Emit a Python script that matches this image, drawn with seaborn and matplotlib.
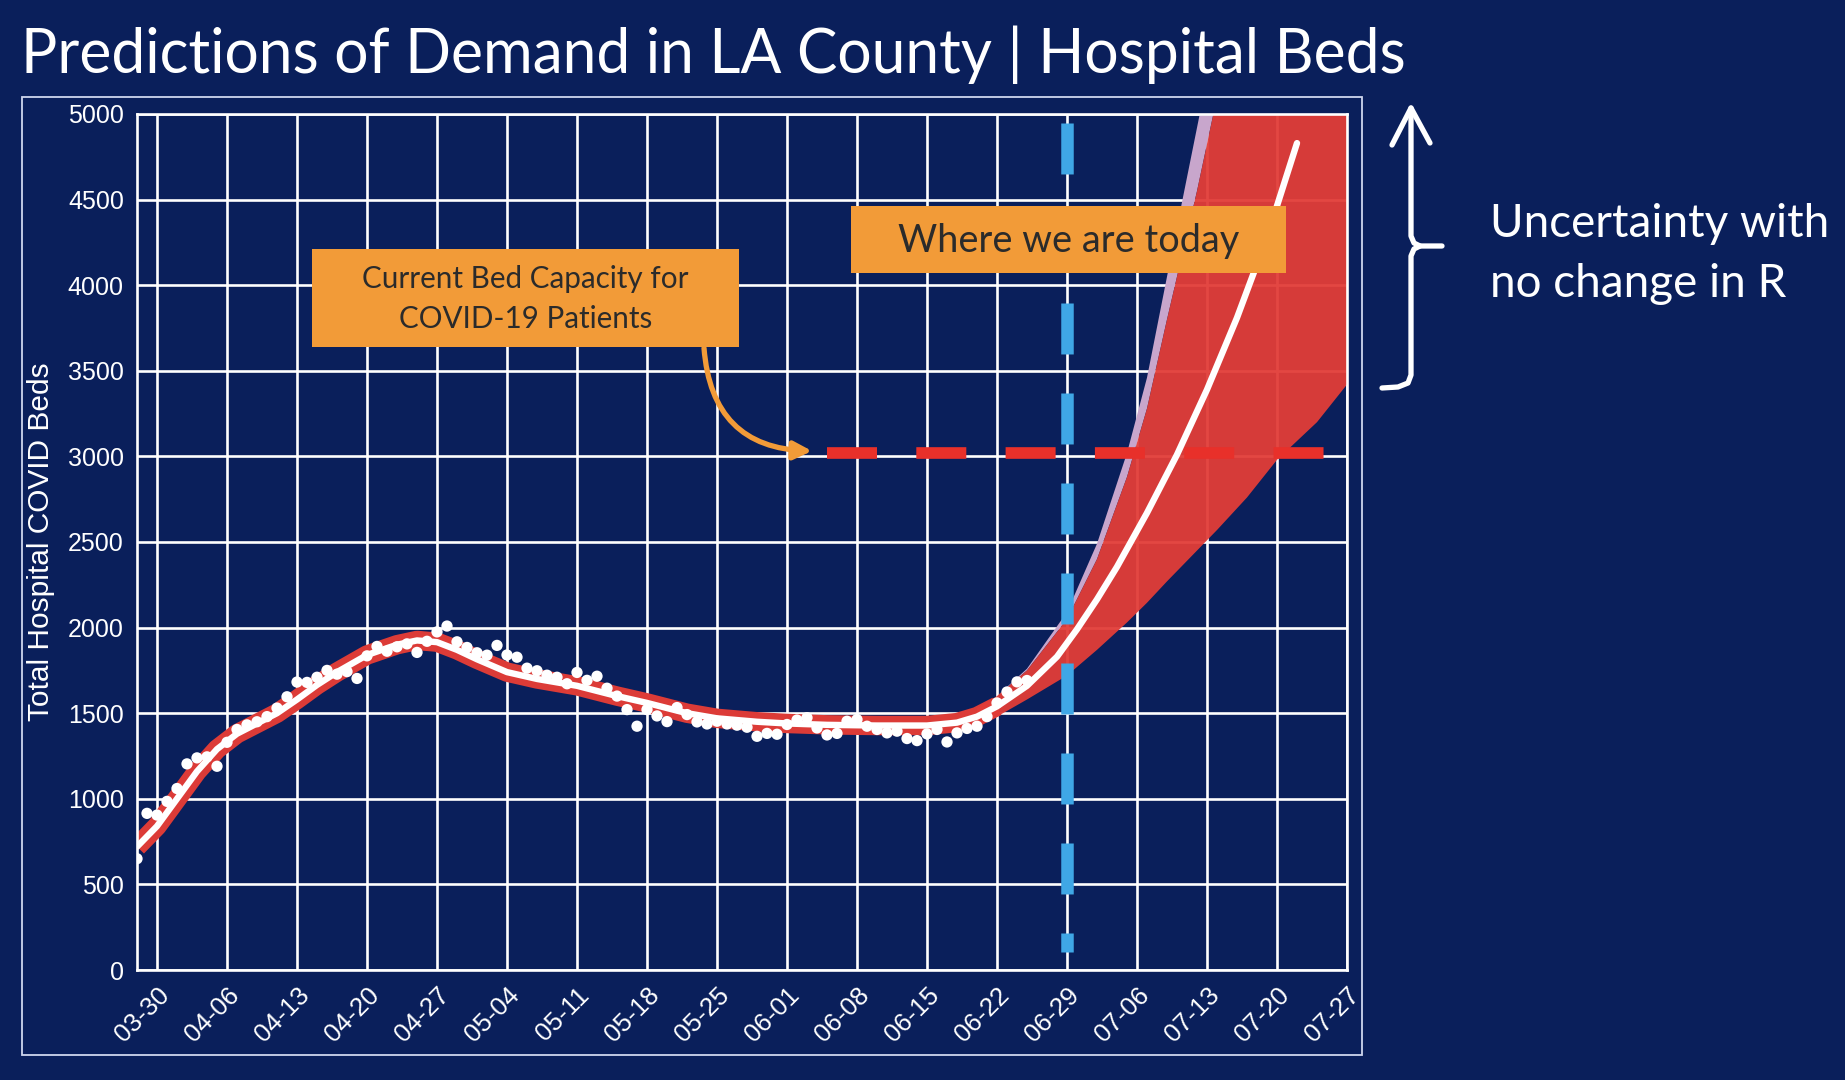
"""
LA County hospital bed demand - observed census, model fit and projection band.
"""

import pandas as pd
import matplotlib
matplotlib.use("Agg")
import matplotlib.pyplot as plt
import matplotlib.dates as mdates
from matplotlib.patches import Rectangle
import seaborn as sns


# ──────────────────────────────────────────────
# Data
# ──────────────────────────────────────────────

obs_dates = pd.date_range("2020-03-28", "2020-06-25", freq="D")
obs_beds = [
    650, 915, 905, 985, 1060, 1204, 1239, 1245, 1190, 1330,
    1405, 1432, 1450, 1480, 1530, 1596, 1682, 1680, 1710, 1750,
    1728, 1743, 1703, 1835, 1890, 1862, 1888, 1905, 1855, 1920,
    1975, 2009, 1917, 1884, 1853, 1839, 1896, 1840, 1827, 1763,
    1748, 1722, 1710, 1672, 1738, 1692, 1716, 1646, 1600, 1521,
    1424, 1521, 1484, 1451, 1533, 1492, 1449, 1437, 1453, 1437,
    1430, 1418, 1365, 1382, 1377, 1434, 1460, 1474, 1414, 1373,
    1382, 1453, 1463, 1424, 1405, 1385, 1395, 1352, 1340, 1379,
    1405, 1332, 1385, 1411, 1424, 1480, 1560, 1624, 1683, 1691,
]

model_dates = [
    "03-28", "03-30", "04-01", "04-03", "04-05", "04-07", "04-09", "04-11",
    "04-13", "04-15", "04-17", "04-20", "04-23", "04-25", "04-27", "04-29",
    "05-01", "05-04", "05-07", "05-11", "05-15", "05-18", "05-22", "05-25",
    "05-29", "06-01", "06-05", "06-10", "06-15", "06-18", "06-20", "06-22",
    "06-25", "06-28", "06-30", "07-02", "07-04", "07-07", "07-10", "07-13",
    "07-16", "07-19", "07-22",
]
model_beds = [
    720, 840, 1000, 1160, 1290, 1380, 1440, 1500,
    1580, 1665, 1740, 1840, 1900, 1925, 1915, 1870,
    1815, 1740, 1700, 1660, 1600, 1560, 1500, 1470,
    1450, 1440, 1432, 1428, 1428, 1445, 1480, 1540,
    1660, 1830, 1990, 2165, 2355, 2670, 3010, 3390,
    3810, 4280, 4830,
]

proj_dates = [
    "06-20", "06-22", "06-25", "06-29", "07-02", "07-05", "07-07",
    "07-09", "07-12", "07-14", "07-17", "07-20", "07-24", "07-27",
]
band_low = [1430, 1480, 1580, 1720, 1870, 2030, 2145, 2270, 2450, 2570, 2760, 2980, 3200, 3420]
band_high = [1530, 1600, 1750, 2050, 2400, 2880, 3280, 3800, 4550, 5100, 5800, 6500, 7400, 8000]
band_high_wide = [1530, 1600, 1760, 2090, 2490, 3020, 3460, 4050, 4920, 5500, 6300, 7000, 7800, 8400]

capacity = 3020
capacity_span = ["06-05", "07-25"]
today = "06-29"
fit_band_until = "06-24"

x_range = ["03-28", "07-27"]
week_ticks = pd.date_range("2020-03-30", "2020-07-27", freq="7D")
y_ticks = list(range(0, 5001, 500))

TITLE = "Predictions of Demand in LA County | Hospital Beds"


def day(md):
    return pd.Timestamp("2020-" + md)


# ──────────────────────────────────────────────
# Style
# ──────────────────────────────────────────────

NAVY = "#0a1f5b"
RED = "#dc3b37"
BAND_RED = "#e23d38"
DASH_RED = "#e8302a"
LAVENDER = "#c8a6cc"
BLUE = "#3fa7e6"
ORANGE = "#f29b38"
SLIDE_FONT = ["Lato", "DejaVu Sans"]

sns.set_theme(style="darkgrid")
plt.rcParams["font.family"] = ["Liberation Sans", "DejaVu Sans"]
plt.rcParams["lines.scale_dashes"] = False

fig = plt.figure(figsize=(18.45, 10.8), dpi=100, facecolor=NAVY)
ax = fig.add_axes([137 / 1845, 1 - 970 / 1080, 1210 / 1845, 856 / 1080])
ax.set_facecolor(NAVY)
ax.grid(True, color="white", linewidth=1.9)
ax.set_axisbelow(True)

m_dt = pd.to_datetime(["2020-" + d for d in model_dates])
m_val = pd.Series(model_beds, index=m_dt)
p_dt = pd.to_datetime(["2020-" + d for d in proj_dates])

# model fit band on the observed period (drawn as a thick stroke)
fit = m_val[m_val.index <= day(fit_band_until)]
sns.lineplot(x=fit.index, y=fit.values, color=RED, linewidth=14,
             solid_capstyle="butt", ax=ax, zorder=2)

# projection uncertainty
ax.fill_between(p_dt, band_high, band_high_wide, color=LAVENDER, linewidth=0, zorder=2)
ax.fill_between(p_dt, band_low, band_high, color=BAND_RED, alpha=0.95, linewidth=0, zorder=2.1)

# "today" marker and capacity line
ax.axvline(day(today), ymin=0.9895, ymax=0.021, color=BLUE, linewidth=9,
           linestyle=(0, (36.7, 28.1)), zorder=3)
ax.plot([day(capacity_span[0]), day(capacity_span[1])], [capacity, capacity],
        color=DASH_RED, linewidth=8.4, linestyle=(0, (36, 28.3)), zorder=3.5)

sns.scatterplot(x=obs_dates, y=obs_beds, color="white", s=66, edgecolor="none",
                ax=ax, zorder=4)
sns.lineplot(x=m_val.index, y=m_val.values, color="white", linewidth=4.6,
             ax=ax, zorder=5)

ax.set_xlim(day(x_range[0]), day(x_range[1]))
ax.set_ylim(0, 5000)
ax.set_yticks(y_ticks)
ax.set_xticks(week_ticks)
ax.xaxis.set_major_formatter(mdates.DateFormatter("%m-%d"))
ax.tick_params(axis="both", length=3.5, width=1, color="#5a5a5a",
               labelcolor="white", labelsize=18, pad=6)
ax.tick_params(axis="x", labelsize=18.5)
plt.setp(ax.get_xticklabels(), rotation=45, ha="right", rotation_mode="anchor")
for s in ax.spines.values():
    s.set_visible(True)
    s.set_color("white")
    s.set_linewidth(1.9)
ax.set_xlabel("")
ax.set_ylabel("Total Hospital COVID Beds", color="white", fontsize=21.5, labelpad=9)

# ──────────────────────────────────────────────
# Slide annotations (pixel coordinates)
# ──────────────────────────────────────────────

ov = fig.add_axes([0, 0, 1, 1], zorder=10)
ov.set_xlim(0, 1845)
ov.set_ylim(1080, 0)
ov.axis("off")

ov.add_patch(Rectangle((22, 97), 1340, 958, fill=False, ec="#cfd6ee", lw=1.3))
ov.text(21, 73, TITLE, fontsize=43.6, color="white", family=SLIDE_FONT, va="baseline")

ov.add_patch(Rectangle((312, 249), 427, 98, fc=ORANGE, ec="none"))
ov.text(525.5, 299, "Current Bed Capacity for\nCOVID-19 Patients", ha="center",
        va="center", fontsize=21.3, color="#2b2b2b", family=SLIDE_FONT, linespacing=1.5)

ov.add_patch(Rectangle((851, 206), 435, 67, fc=ORANGE, ec="none"))
ov.text(1068.5, 241, "Where we are today", ha="center", va="center",
        fontsize=27.3, color="#2b2b2b", family=SLIDE_FONT)

ov.annotate("", xy=(812, 451), xytext=(704, 348),
            arrowprops=dict(arrowstyle="-|>,head_length=0.9,head_width=0.45",
                            color=ORANGE, lw=3.8, shrinkA=0, shrinkB=0,
                            connectionstyle="arc3,rad=0.45"))

wkw = dict(color="white", linewidth=3.8, solid_capstyle="round", solid_joinstyle="round")
ov.plot([1392, 1411, 1430], [145, 108, 143], **wkw)
ov.plot([1411, 1411, 1414, 1420, 1442], [108, 236, 243, 246, 246], **wkw)
ov.plot([1420, 1414, 1411, 1411, 1408, 1398, 1382], [246, 249, 256, 375, 383, 387, 388], **wkw)

ov.text(1490, 237, "Uncertainty with", fontsize=33, color="white",
        family=SLIDE_FONT, va="baseline")
ov.text(1490, 297, "no change in R", fontsize=33, color="white",
        family=SLIDE_FONT, va="baseline")

fig.savefig("out.png", dpi=100, facecolor=NAVY)
